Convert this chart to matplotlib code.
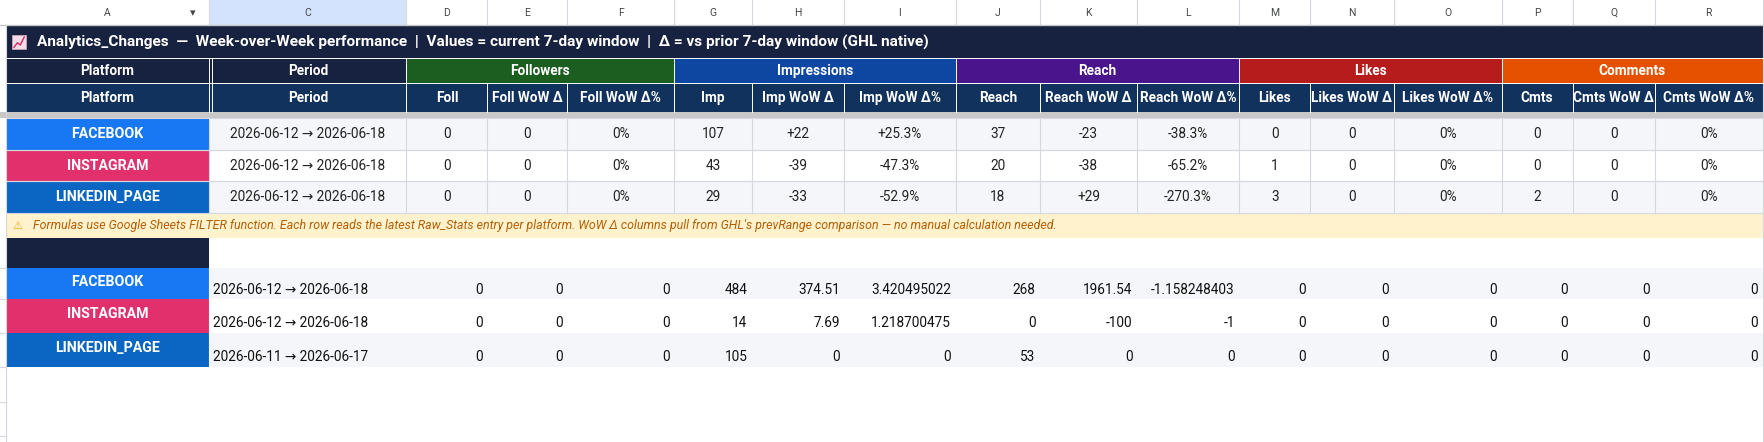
import matplotlib
matplotlib.use("Agg")
import matplotlib.pyplot as plt
from matplotlib.patches import Rectangle

plt.rcParams['font.family'] = ['Roboto', 'DejaVu Sans']

col_letters = ["A", "C", "D", "E", "F", "G", "H", "I", "J", "K", "L", "M", "N", "O", "P", "Q", "R"]
col_edges = [5, 186, 361, 433, 504, 599, 668, 750, 849, 924, 1010, 1101, 1164, 1238, 1334, 1397, 1470, 1566]
groups = ["Followers", "Impressions", "Reach", "Likes", "Comments"]
group_colors = ["#1b5e20", "#0d47a1", "#4a148c", "#b71c1c", "#e65100"]
subheaders = ["Platform", "Period", "Foll", "Foll WoW Δ", "Foll WoW Δ%", "Imp", "Imp WoW Δ", "Imp WoW Δ%",
              "Reach", "Reach WoW Δ", "Reach WoW Δ%", "Likes", "Likes WoW Δ", "Likes WoW Δ%",
              "Cmts", "Cmts WoW Δ", "Cmts WoW Δ%"]
platforms = ["FACEBOOK", "INSTAGRAM", "LINKEDIN_PAGE"]
platform_colors = ["#1877f2", "#e1306c", "#0a66c2"]
periods_top = ["2026-06-12 → 2026-06-18"] * 3
top_values = [
    ["0", "0", "0%", "107", "+22", "+25.3%", "37", "-23", "-38.3%", "0", "0", "0%", "0", "0", "0%"],
    ["0", "0", "0%", "43", "-39", "-47.3%", "20", "-38", "-65.2%", "1", "0", "0%", "0", "0", "0%"],
    ["0", "0", "0%", "29", "-33", "-52.9%", "18", "+29", "-270.3%", "3", "0", "0%", "2", "0", "0%"],
]
periods_bottom = ["2026-06-12 → 2026-06-18", "2026-06-12 → 2026-06-18", "2026-06-11 → 2026-06-17"]
bottom_values = [
    ["0", "0", "0", "484", "374.51", "3.420495022", "268", "1961.54", "-1.158248403", "0", "0", "0", "0", "0", "0"],
    ["0", "0", "0", "14", "7.69", "1.218700475", "0", "-100", "-1", "0", "0", "0", "0", "0", "0"],
    ["0", "0", "0", "105", "0", "0", "53", "0", "0", "0", "0", "0", "0", "0", "0"],
]
title = "Analytics_Changes  —  Week-over-Week performance  |  Values = current 7-day window  |  Δ = vs prior 7-day window (GHL native)"
note = "Formulas use Google Sheets FILTER function. Each row reads the latest Raw_Stats entry per platform. WoW Δ columns pull from GHL's prevRange comparison — no manual calculation needed."

W, H = 1568, 393
fig = plt.figure(figsize=(17.65, 4.42), dpi=100)
ax = fig.add_axes([0, 0, 1, 1])
ax.set_xlim(0, W); ax.set_ylim(H, 0); ax.axis("off")

def rect(x0, y0, x1, y1, fc, ec="none", lw=0.8):
    ax.add_patch(Rectangle((x0, y0), x1 - x0, y1 - y0, fc=fc, ec=ec, lw=lw))

def cx(i): return (col_edges[i] + col_edges[i + 1]) / 2

GRID = "#d5d8de"
FS = 9.8
x0, xR = col_edges[0], col_edges[-1]

# column letter header
rect(0, 0, W, 22, "white")
rect(col_edges[1], 0, col_edges[2], 22, "#d3e3fd")
for i, L in enumerate(col_letters):
    ax.text(cx(i), 11.5, L, ha="center", va="center", fontsize=7.5, color="#444746")
    ax.plot([col_edges[i + 1]] * 2, [0, 22], color=GRID, lw=0.8)
ax.text(171, 12, "▾", ha="center", va="center", fontsize=8, color="#444746", family=["DejaVu Sans"])
ax.plot([0, W], [22, 22], color="#c4c7c5", lw=1)
ax.plot([xR, xR], [22, H], color=GRID, lw=0.8)

# title
rect(x0, 22, xR, 52, "#172240")
# chart icon (emoji drawn as shape)
rect(11, 31, 23, 44, "#f4dde6", ec="#c9a3b5", lw=0.6)
ax.plot([12.5, 15.5, 18, 21.5], [42, 38, 40, 33], color="#d6336c", lw=1.1)
ax.text(33, 37.5, title, ha="left", va="center", fontsize=11.1, color="white", weight="bold")

# group header row
rect(x0, 52, col_edges[2], 74, "#172240")
for i, (g, c) in enumerate(zip(groups, group_colors)):
    a, b = col_edges[2 + 3 * i], col_edges[5 + 3 * i]
    rect(a, 52, b, 74, c)
    ax.text((a + b) / 2, 63.5, g, ha="center", va="center", fontsize=FS, color="white", weight="bold")
ax.text(cx(0), 63.5, "Platform", ha="center", va="center", fontsize=FS, color="white", weight="bold")
ax.text(cx(1), 63.5, "Period", ha="center", va="center", fontsize=FS, color="white", weight="bold")

# subheader row
rect(x0, 74, xR, 100, "#12325e")
for i, s in enumerate(subheaders):
    ax.text(cx(i), 87.5, s, ha="center", va="center", fontsize=FS, color="white", weight="bold")
for e in col_edges[1:-1]:
    ax.plot([e, e], [74, 100], color="white", lw=0.7)
for e in col_edges[2:-1:3]:
    ax.plot([e, e], [52, 74], color="white", lw=0.7)
ax.plot([col_edges[1], col_edges[1]], [52, 74], color="white", lw=0.7)
ax.plot([col_edges[1] + 2] * 2, [52, 100], color="white", lw=0.7)
ax.plot([x0, xR], [74, 74], color="white", lw=0.7)
ax.plot([x0, xR], [52, 52], color="white", lw=0.7)
rect(0, 100, W, 105, "#c8c8c8")

# top data rows
tops = [105, 133, 161, 189]
for r in range(3):
    y0, y1 = tops[r], tops[r + 1]
    bg = "#f5f6fa" if r != 1 else "white"
    rect(col_edges[1], y0, xR, y1, bg)
    rect(x0, y0, col_edges[1], y1, platform_colors[r])
    ym = (y0 + y1) / 2 + 0.5
    ax.text(cx(0), ym, platforms[r], ha="center", va="center", fontsize=FS + 0.4, color="white", weight="bold")
    ax.text(cx(1), ym, periods_top[r], ha="center", va="center", fontsize=FS, color="#222222")
    for j, v in enumerate(top_values[r]):
        ax.text(cx(j + 2), ym, v, ha="center", va="center", fontsize=FS, color="#222222")
    ax.plot([x0, xR], [y1, y1], color=GRID, lw=0.8)
    ax.plot([x0, xR], [y0, y0], color=GRID, lw=0.8)
for e in col_edges[1:-1]:
    ax.plot([e, e], [105, 189], color=GRID, lw=0.8)

# note
rect(x0, 189, xR, 212, "#fff2cc")
ax.text(11, 200.5, "⚠", ha="left", va="center", fontsize=8, color="#e8a317", family=["DejaVu Sans"])
ax.text(29, 200.5, note, ha="left", va="center", fontsize=8.9, color="#b45f06", style="italic")

# dark separator cell
rect(x0, 212, col_edges[1], 238, "#172240")

# bottom rows
btops = [238, 266, 296, 326]
for r in range(3):
    y0, y1 = btops[r], btops[r + 1]
    bg = "#f5f6fa" if r != 1 else "white"
    rect(col_edges[1], y0, xR, y1, bg)
    rect(x0, y0, col_edges[1], y1, platform_colors[r])
    ax.text(cx(0), y0 + 13, platforms[r], ha="center", va="center", fontsize=FS + 0.4, color="white", weight="bold")
    yb = y1 - 5
    ax.text(col_edges[1] + 3, yb, periods_bottom[r], ha="left", va="baseline", fontsize=FS, color="#111111")
    for j, v in enumerate(bottom_values[r]):
        ax.text(col_edges[j + 3] - 4, yb, v, ha="right", va="baseline", fontsize=FS, color="#111111")
    ax.plot([col_edges[1], col_edges[1]], [y0, y1], color="white", lw=0.8)

# left gutter marks
for y in [238, 266, 296, 326, 357, 388]:
    ax.plot([0, 5], [y, y], color=GRID, lw=0.8)
ax.plot([5, 5], [22, H], color=GRID, lw=0.8)

fig.savefig("out.png", dpi=100)
